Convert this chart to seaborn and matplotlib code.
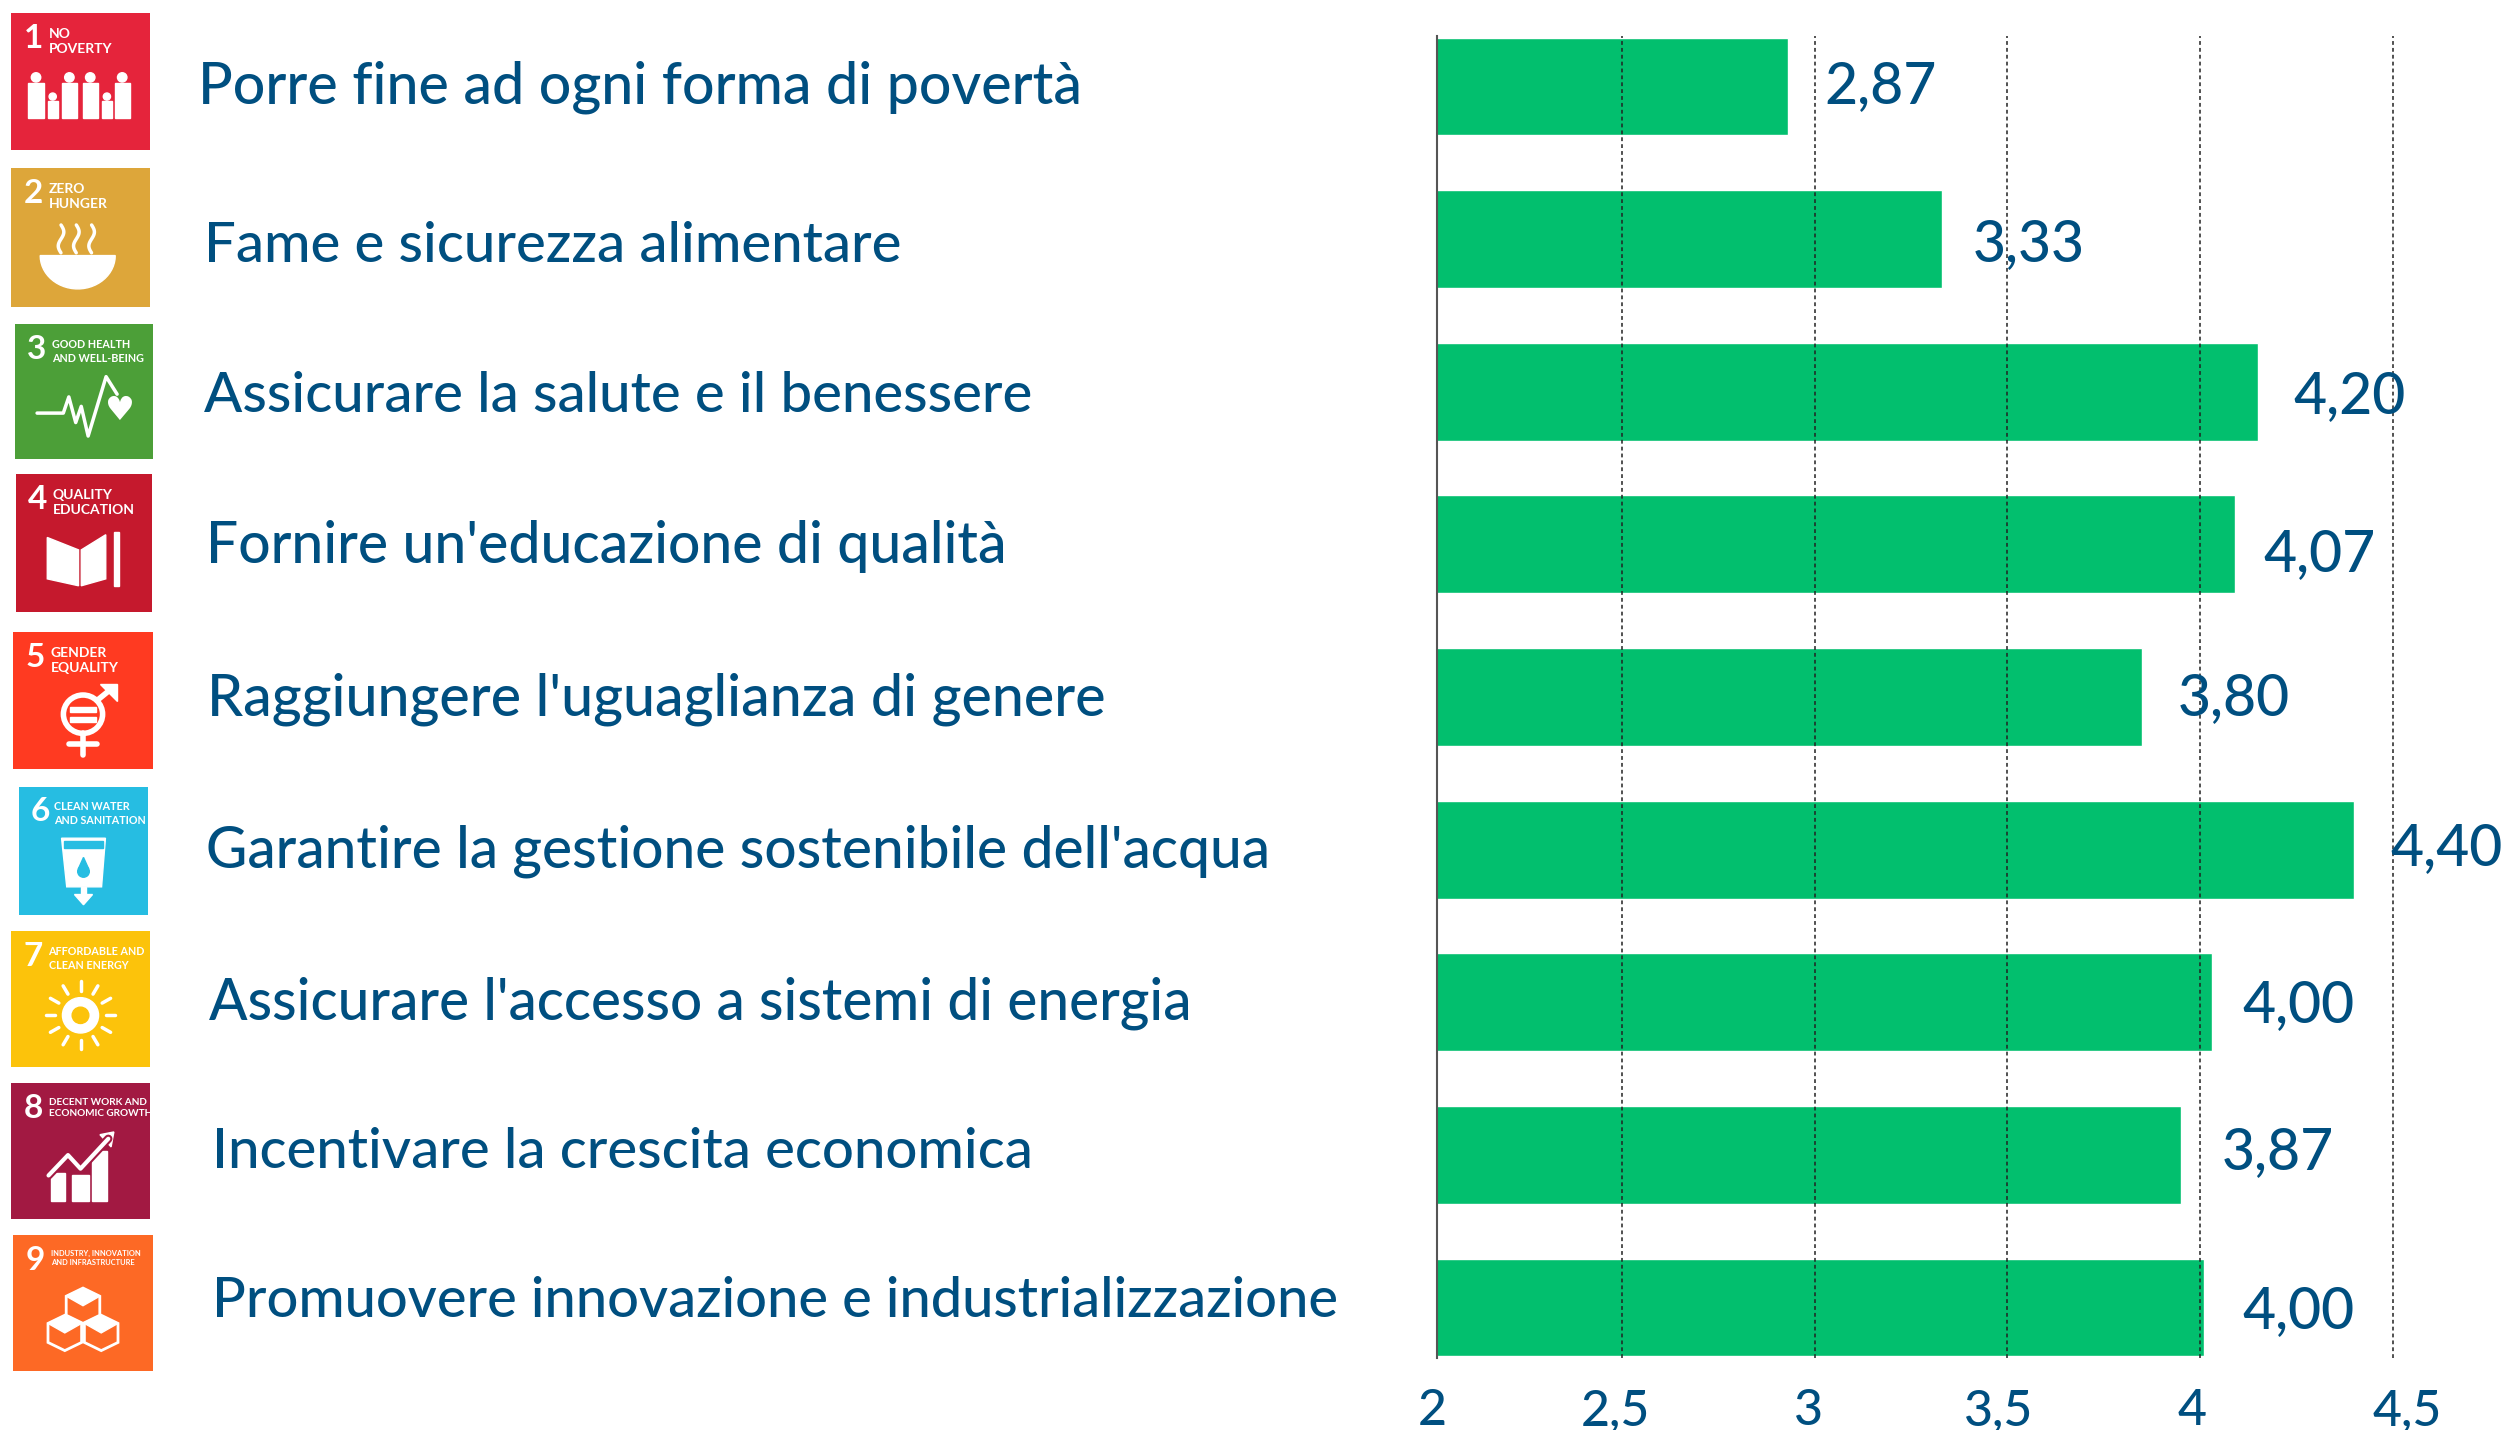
import numpy as np
import seaborn as sns
import matplotlib.pyplot as plt
from matplotlib.patches import Circle, Polygon, Rectangle

goals = ['Porre fine ad ogni forma di povertà', 'Fame e sicurezza alimentare',
         'Assicurare la salute e il benessere', "Fornire un'educazione di qualità",
         "Raggiungere l'uguaglianza di genere", "Garantire la gestione sostenibile dell'acqua",
         "Assicurare l'accesso a sistemi di energia", 'Incentivare la crescita economica',
         'Promuovere innovazione e industrializzazione']
# printed scores, and the lengths the bars really have in the picture (they differ a bit)
score_labels = ['2,87', '3,33', '4,20', '4,07', '3,80', '4,40', '4,00', '3,87', '4,00']
bar_lengths = [2.93, 3.33, 4.15, 4.09, 3.85, 4.40, 4.03, 3.95, 4.01]
tick_values = [2, 2.5, 3, 3.5, 4, 4.5]
tick_labels = ['2', '2,5', '3', '3,5', '4', '4,5']

icon_numbers = ['1', '2', '3', '4', '5', '6', '7', '8', '9']
icon_captions = ['NO\nPOVERTY', 'ZERO\nHUNGER', 'GOOD HEALTH\nAND WELL-BEING',
                 'QUALITY\nEDUCATION', 'GENDER\nEQUALITY', 'CLEAN WATER\nAND SANITATION',
                 'AFFORDABLE AND\nCLEAN ENERGY', 'DECENT WORK AND\nECONOMIC GROWTH',
                 'INDUSTRY, INNOVATION\nAND INFRASTRUCTURE']
icon_colors = ['#E5243B', '#DDA63A', '#4C9F38', '#C5192D', '#FF3A21',
               '#26BDE2', '#FCC30B', '#A21942', '#FD6925']

W, H = 2509, 1430
TEXT = '#004F80'
GREEN = '#02BF6E'
FONT = ['Lato', 'DejaVu Sans']

# layout in reference pixels
icon_boxes = [(11, 13, 150, 150), (11, 168, 150, 307), (15, 324, 153, 459),
              (16, 474, 152, 612), (13, 632, 153, 769), (19, 787, 148, 915),
              (11, 931, 150, 1067), (11, 1083, 150, 1219), (13, 1235, 153, 1371)]
label_x = [198, 204, 204, 206, 207, 206, 209, 212, 212]
label_base = [104, 262, 412, 563, 715, 867, 1019, 1168, 1317]
label_size = [41.2, 40.5, 40.5, 41, 41.2, 40.9, 40.8, 40.5, 40.3]
score_gap = [37, 31, 35, 28, 35, 36, 31, 41, 38]
score_base = [103, 261, 413, 571, 715, 865, 1022, 1169, 1328]
tick_shift = [3, -6, -6, -8, -8, 15]

sns.set_theme(style='white')
fig = plt.figure(figsize=(W / 100, H / 100), dpi=100)


def px_axes(x0, y0, x1, y1):
    return fig.add_axes([x0 / W, 1 - y1 / H, (x1 - x0) / W, (y1 - y0) / H])


ax = px_axes(1437, 36, 2400, 1358)
sns.barplot(x=bar_lengths, y=goals, orient='h', color=GREEN, saturation=1, width=0.64, ax=ax)
ax.set_xlim(2.021, 4.518)
ax.set_ylim(8.33, -0.33)
ax.set_xticks(tick_values[1:])
ax.set_xticklabels([])
ax.set_yticks([])
ax.set_xlabel('')
ax.set_ylabel('')
ax.set_axisbelow(False)
ax.grid(axis='x', color='#222222', linestyle=(0, (2.5, 2)), linewidth=1.1)
sns.despine(ax=ax, top=True, right=True, bottom=True)
ax.spines['left'].set_color('#555555')
ax.spines['left'].set_linewidth(1.5)

to_px = ax.transData.transform
for i, lab in enumerate(score_labels):
    x_px = to_px((bar_lengths[i], 0))[0]
    fig.text((x_px + score_gap[i]) / W, 1 - score_base[i] / H, lab, color=TEXT,
             family=FONT, fontsize=41, weight='medium', va='baseline', ha='left', zorder=5)
for t, lab, s in zip(tick_values, tick_labels, tick_shift):
    x_px = 1429 + (t - 2) * 385.4
    fig.text((x_px + s) / W, 1 - 1425 / H, lab, color=TEXT, family=FONT, fontsize=36,
             weight='medium', va='baseline', ha='center')
for i, g in enumerate(goals):
    fig.text(label_x[i] / W, 1 - label_base[i] / H, g, color=TEXT, family=FONT,
             fontsize=label_size[i], weight='medium', va='baseline', ha='left')


def draw_people(a, c):
    for x in (18, 42, 57, 80):
        a.add_patch(Circle((x, 47), 3.4, color='w'))
        a.add_patch(Rectangle((x - 5.5, 51), 11, 26, color='w'))
    for x in (30, 69):
        a.add_patch(Circle((x, 61), 2.6, color='w'))
        a.add_patch(Rectangle((x - 3.5, 64), 7, 13, color='w'))


def draw_bowl(a, c):
    t = np.linspace(0, np.pi, 30)
    a.add_patch(Polygon(np.c_[48 + 27 * np.cos(t), 63 + 24 * np.sin(t)], color='w'))
    for x in (36, 47, 58):
        y = np.linspace(41, 61, 30)
        a.plot(x + 2 * np.sin((y - 41) / 3.2), y, color='w', lw=2.5)


def draw_pulse(a, c):
    a.plot([16, 35, 39, 44, 48, 53, 66, 74], [66, 66, 54, 73, 61, 83, 39, 52], color='w', lw=2.5)
    a.text(75, 64, '♥', color='w', fontsize=24, ha='center', va='center', family='DejaVu Sans')


def draw_book(a, c):
    a.add_patch(Polygon([(23, 46), (46, 55), (46, 81), (23, 76)], color='w'))
    a.add_patch(Polygon([(48, 55), (66, 44), (66, 76), (48, 81)], color='w'))
    a.add_patch(Rectangle((72, 42), 4, 39, color='w'))


def draw_gender(a, c):
    a.add_patch(Circle((50, 60), 14, fill=False, ec='w', lw=4))
    a.add_patch(Rectangle((41, 55), 18, 3.5, color='w'))
    a.add_patch(Rectangle((41, 62), 18, 3.5, color='w'))
    a.plot([60, 72], [50, 40], color='w', lw=4)
    a.add_patch(Polygon([(62, 38), (74, 38), (74, 50)], color='w'))
    a.plot([50, 50], [74, 90], color='w', lw=4)
    a.plot([40, 60], [82, 82], color='w', lw=4)


def draw_water(a, c):
    a.add_patch(Polygon([(33, 40), (67, 40), (64, 78), (37, 78)], color='w'))
    a.add_patch(Rectangle((35, 42), 30, 6, color=c))
    a.add_patch(Circle((50, 66), 4.5, color=c))
    a.add_patch(Polygon([(50, 55), (46, 64), (54, 64)], color=c))
    a.add_patch(Polygon([(43, 84), (57, 84), (50, 92)], color='w'))
    a.add_patch(Rectangle((48, 78), 4, 7, color='w'))


def draw_sun(a, c):
    a.add_patch(Circle((50, 62), 13, color='w'))
    a.add_patch(Circle((50, 62), 6, color=c))
    for ang in np.arange(12) * np.pi / 6:
        a.plot([50 + 18 * np.cos(ang), 50 + 25 * np.cos(ang)],
               [62 + 18 * np.sin(ang), 62 + 25 * np.sin(ang)], color='w', lw=2.5)


def draw_growth(a, c):
    for x0, w, top in ((29, 10, 66), (44, 12, 68), (58, 11, 50)):
        a.add_patch(Rectangle((x0, top), w, 87 - top, color='w'))
    a.plot([27, 41, 50, 70], [68, 53, 63, 41], color=c, lw=6)
    a.plot([27, 41, 50, 70], [68, 53, 63, 41], color='w', lw=3)
    a.add_patch(Polygon([(64, 38), (74, 36), (72, 47)], color='w'))


def draw_cubes(a, c):
    for cx, cy in ((50, 52), (37, 72), (63, 72)):
        hexa = [(cx, cy - 13), (cx + 12, cy - 7), (cx + 12, cy + 7),
                (cx, cy + 13), (cx - 12, cy + 7), (cx - 12, cy - 7)]
        a.add_patch(Polygon(hexa, fill=False, ec='w', lw=2))
        a.add_patch(Polygon([hexa[0], hexa[1], (cx, cy), hexa[5]], color='w'))


pictos = [draw_people, draw_bowl, draw_pulse, draw_book, draw_gender,
          draw_water, draw_sun, draw_growth, draw_cubes]

for box, num, cap, col, picto in zip(icon_boxes, icon_numbers, icon_captions, icon_colors, pictos):
    a = px_axes(*box)
    a.set_xlim(0, 100)
    a.set_ylim(100, 0)
    a.set_facecolor(col)
    a.set_xticks([])
    a.set_yticks([])
    for s in a.spines.values():
        s.set_visible(False)
    a.text(9, 8, num, color='w', fontsize=24, weight='bold', family=FONT, va='top', ha='left')
    # caption size follows the longest line so it stays inside the square
    n = max(len(part) for part in cap.split('\n'))
    a.text(27, 11, cap, color='w', fontsize=min(10, 108 / n), weight='bold', family=FONT,
           va='top', ha='left', linespacing=1.3)
    picto(a, col)

fig.savefig('out.png', dpi=100)
